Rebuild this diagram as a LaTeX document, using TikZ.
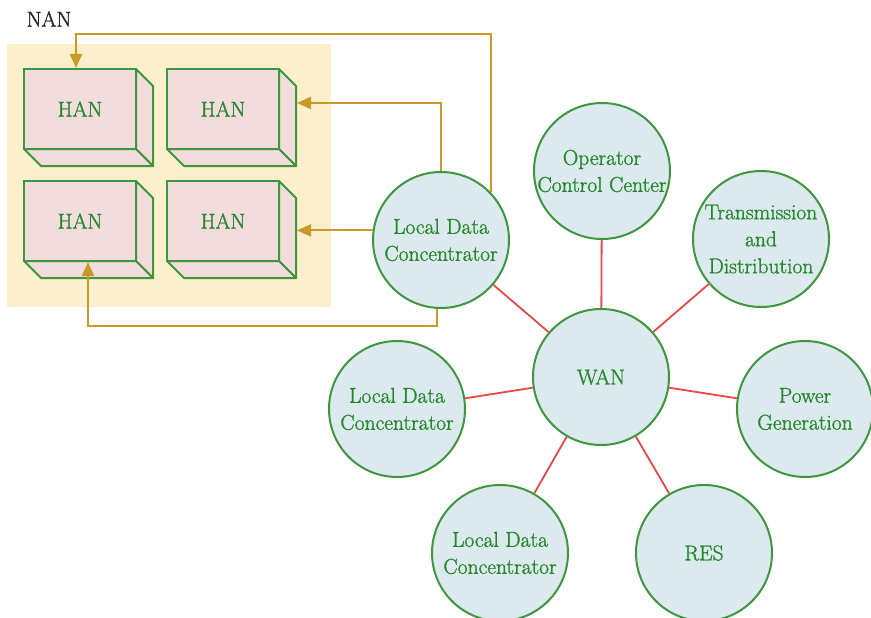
\documentclass[tikz,border=0pt]{standalone}
\usepackage{fontspec}
\setmainfont{Latin Modern Roman}
\newfontfamily\diagramfont{Latin Modern Roman}[FakeBold=1.2]
\usetikzlibrary{arrows.meta}

\definecolor{hubfill}{HTML}{DCE9EE}
\definecolor{hubline}{HTML}{3E963E}
\definecolor{hubtext}{HTML}{24872A}
\definecolor{hanfill}{HTML}{F2DCDC}
\definecolor{nanbg}{HTML}{FCEFCB}
\definecolor{feedgold}{HTML}{C99A28}
\definecolor{linkred}{HTML}{E8484A}

\begin{document}
\begin{tikzpicture}[x=1pt,y=-1pt,
  lbl/.style={font=\diagramfont\fontsize{21.5}{27}\selectfont},
  hub/.style={lbl,circle,draw=hubline,fill=hubfill,line width=2pt,
    minimum size=136pt,inner sep=0pt,text=hubtext,align=center},
  hanface/.style={lbl,rectangle,draw=hubline,fill=hanfill,line width=2pt,
    minimum width=112pt,minimum height=80pt,inner sep=0pt,text=hubtext},
  hanside/.style={draw=hubline,fill=hanfill,line width=2pt,line join=round},
  nanarea/.style={rectangle,fill=nanbg,inner sep=0pt},
  feed/.style={draw=feedgold,line width=2.2pt,
    -{Triangle[length=14pt,width=12pt]}},
  link/.style={draw=linkred,line width=1.8pt}]

\useasboundingbox (0,0) rectangle (871,618);

% neighbourhood area with its label
\node[nanarea,minimum width=324pt,minimum height=263pt] (nan) at (169,175.5) {};
\node[lbl,text=black!85] (nanlbl) at (49,19) {NAN};

% home area networks drawn as boxes with depth
\foreach \n/\cx/\cy in {h1/80/109, h2/223/109, h3/80/221, h4/223/221}{
  \path[hanside] (\cx+56,\cy-40) -- (\cx+73,\cy-23) -- (\cx+73,\cy+57)
    -- (\cx+56,\cy+40) -- cycle;
  \path[hanside] (\cx-56,\cy+40) -- (\cx+56,\cy+40) -- (\cx+73,\cy+57)
    -- (\cx-39,\cy+57) -- cycle;
  \node[hanface] (\n) at (\cx,\cy) {HAN};
}

% star network around the WAN
\node[hub] (ldcT) at (441,240) {Local Data\\Concentrator};
\node[hub] (opc)  at (602,171) {Operator\\Control Center};
\node[hub] (tnd)  at (761,239) {Transmission\\and\\Distribution};
\node[hub] (wan)  at (601,377) {WAN};
\node[hub] (pg)   at (805,409) {Power\\Generation};
\node[hub] (res)  at (704,553) {RES};
\node[hub] (ldcB) at (500,553) {Local Data\\Concentrator};
\node[hub] (ldcL) at (397,409) {Local Data\\Concentrator};

\foreach \t in {ldcT,opc,tnd,pg,res,ldcB,ldcL}
  \draw[link] (wan) -- (\t);

% feeds from the concentrator into the home networks
\coordinate (h2in) at ([xshift=17pt,yshift=6pt]h2.east);
\coordinate (h4in) at ([xshift=17pt,yshift=-9pt]h4.east);
\draw[feed] (ldcT.44) |- ([xshift=-4pt,yshift=34pt]h1.north)
  -- ([xshift=-4pt]h1.north);
\draw[feed] (ldcT.north) |- (h2in);
\draw[feed] (ldcT.172) -- (ldcT.172 -| h4in);
\draw[feed] (ldcT.267) -- ++(0,17) -| ([xshift=8pt]h3.south);

\end{tikzpicture}
\end{document}
